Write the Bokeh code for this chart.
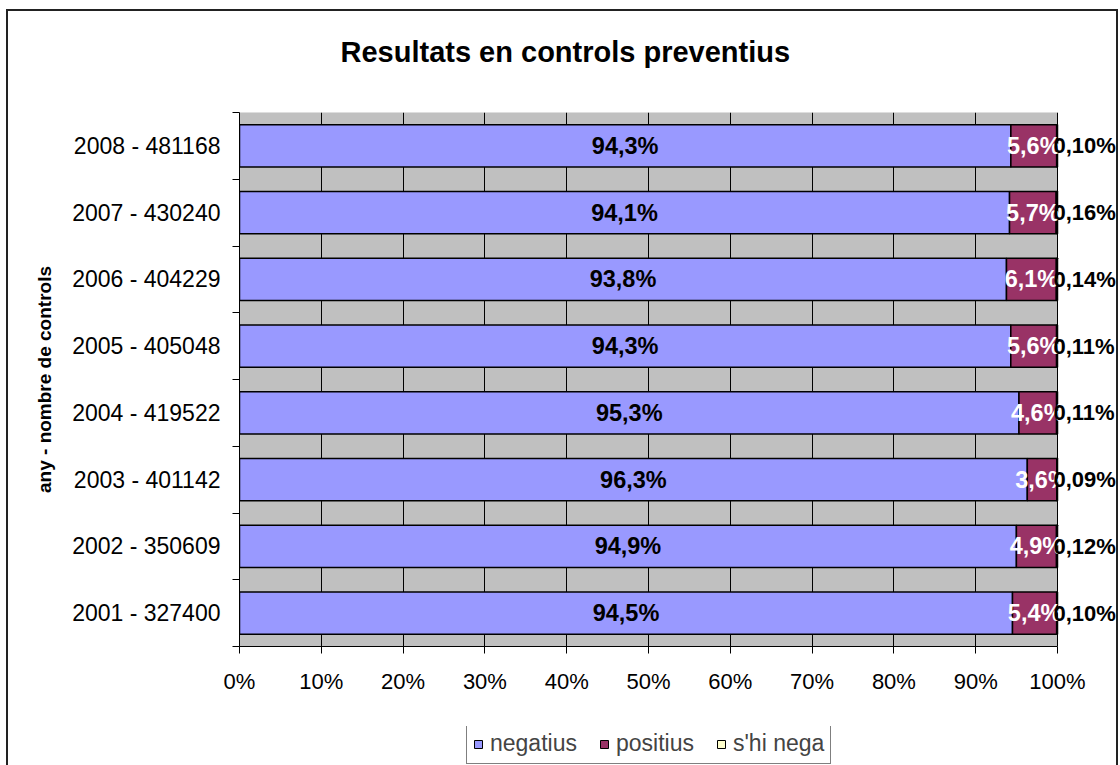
import numpy as np
from bokeh.plotting import figure
from bokeh.layouts import column
from bokeh.models import (ColumnDataSource, FixedTicker, PrintfTickFormatter,
                          Legend, LegendItem, Range1d, LabelSet, BoxAnnotation)
from bokeh.core.properties import value
from bokeh.embed import file_html
from bokeh.resources import INLINE

# ---- data (bottom to top) ----
years = ["2001", "2002", "2003", "2004", "2005", "2006", "2007", "2008"]
controls = ["327400", "350609", "401142", "419522", "405048", "404229", "430240", "481168"]
negatius = [94.5, 94.9, 96.3, 95.3, 94.3, 93.8, 94.1, 94.3]
positius = [5.4, 4.9, 3.6, 4.6, 5.6, 6.1, 5.7, 5.6]
shi_nega = [0.10, 0.12, 0.09, 0.11, 0.11, 0.14, 0.16, 0.10]
series_names = ["negatius", "positius", "s'hi nega"]
colors = ["#9999FF", "#993366", "#FFFFCC"]
x_ticks = [0, 10, 20, 30, 40, 50, 60, 70, 80, 90, 100]
title_text = "Resultats en controls preventius"
y_title = "any - nombre de controls"

FONT = "Liberation Sans"
W = 1108
BL = 231          # left border shared by all strips so frames line up
PLOT_W = 818      # pixel width of the 0-100 % plot area
X_END = 100 * (W - BL) / PLOT_W   # frame runs to the right edge, plot area is 0..100

neg = np.array(negatius)
pos = np.array(positius)
sn = np.array(shi_nega)
tot = neg + pos + sn
negn = neg / tot * 100
posn = pos / tot * 100
snn = sn / tot * 100
ypos = np.arange(len(years))

def fmt(v, d):
    return (f"{v:.{d}f}").replace(".", ",") + "%"

src = ColumnDataSource(dict(
    y=ypos,
    neg_l=np.zeros(len(years)), neg_r=negn,
    pos_l=negn, pos_r=negn + posn,
    sn_l=negn + posn, sn_r=negn + posn + snn,
    neg_c=negn / 2, pos_c=negn + posn / 2, sn_x=negn + posn + snn,
    neg_t=[fmt(v, 1) for v in negatius],
    pos_t=[fmt(v, 1) for v in positius],
    sn_t=[fmt(v, 2) for v in shi_nega],
))

def blank(fig):
    fig.grid.visible = False
    fig.outline_line_color = None
    fig.background_fill_color = "white"
    fig.border_fill_color = "white"

# ---- title strip ----
p0 = figure(width=W, height=90, output_backend="svg", toolbar_location=None,
            x_range=Range1d(0, 1), y_range=Range1d(0, 1),
            x_axis_location=None, y_axis_location=None,
            min_border_left=BL, min_border_right=0, min_border_top=0, min_border_bottom=0,
            title=title_text)
blank(p0)
p0.title.text_font = FONT
p0.title.text_font_size = "29px"
p0.title.text_font_style = "bold"
p0.title.text_color = "black"
p0.title.align = "left"
p0.title.offset = 101
p0.title.standoff = 44

# ---- main chart ----
p = figure(width=W, height=625, output_backend="svg", toolbar_location=None,
           x_range=Range1d(0, X_END), y_range=Range1d(-0.5, len(years) - 0.5),
           min_border_left=BL, min_border_right=0, min_border_top=11,
           min_border_bottom=80)

p.background_fill_color = "white"
p.border_fill_color = "white"
p.outline_line_color = None

# grey plot area 0..100 %
p.add_layout(BoxAnnotation(left=0, right=100, fill_color="#C0C0C0", fill_alpha=1,
                           line_color="#808080", line_width=1, level="image"))

p.ygrid.grid_line_color = None
p.xgrid.ticker = FixedTicker(ticks=x_ticks)
p.xgrid.grid_line_color = "black"
p.xgrid.grid_line_width = 1

xa = p.xaxis[0]
xa.bounds = (0, 100)
xa.ticker = FixedTicker(ticks=x_ticks)
xa.formatter = PrintfTickFormatter(format="%d%%")
xa.major_tick_out = 7
xa.major_tick_in = 0
xa.minor_tick_out = 0
xa.minor_tick_in = 0
xa.axis_line_color = "black"
xa.major_tick_line_color = "black"
xa.major_label_text_font = FONT
xa.major_label_text_font_size = "22px"
xa.major_label_text_color = "black"
xa.major_label_standoff = 15

ya = p.yaxis[0]
ya.ticker = FixedTicker(ticks=list(ypos), minor_ticks=list(np.arange(len(years) + 1) - 0.5))
ya.major_label_overrides = {int(i): f"{y} - {c}" for i, y, c in zip(ypos, years, controls)}
ya.major_tick_out = 0
ya.major_tick_in = 0
ya.minor_tick_out = 7
ya.minor_tick_in = 0
ya.minor_tick_line_color = "black"
ya.axis_line_color = "black"
ya.major_label_text_font = FONT
ya.major_label_text_font_size = "23px"
ya.major_label_text_color = "black"
ya.major_label_standoff = 12
ya.axis_label = y_title
ya.axis_label_text_font = FONT
ya.axis_label_text_font_size = "19px"
ya.axis_label_text_font_style = "bold"
ya.axis_label_text_color = "black"
ya.axis_label_standoff = 14

H = 0.63
cols = [("neg_l", "neg_r"), ("pos_l", "pos_r"), ("sn_l", "sn_r")]
for (l, r), c in zip(cols, colors):
    p.hbar(y="y", left=l, right=r, height=H, source=src,
           fill_color=c, line_color="black", line_width=1.5)

p.add_layout(LabelSet(x="neg_c", y="y", text="neg_t", source=src, text_align="center",
                      text_baseline="middle", text_font=value(FONT), text_font_size="23.5px",
                      text_font_style="bold", text_color="black"))
p.add_layout(LabelSet(x="pos_c", y="y", text="pos_t", source=src, text_align="center",
                      text_baseline="middle", text_font=value(FONT), text_font_size="23.5px",
                      text_font_style="bold", text_color="white"))
p.add_layout(LabelSet(x="sn_x", y="y", text="sn_t", source=src, text_align="left",
                      x_offset=-4, text_baseline="middle", text_font=value(FONT),
                      text_font_size="22px", text_font_style="bold", text_color="black"))

# ---- legend strip (swatch renderers are hidden, legend only) ----
p2 = figure(width=W, height=39, output_backend="svg", toolbar_location=None,
            x_range=Range1d(0, 100), y_range=Range1d(-0.5, len(years) - 0.5),
            x_axis_location=None, y_axis_location=None,
            min_border_left=BL, min_border_right=0, min_border_top=0, min_border_bottom=0)
blank(p2)
lr = [p2.hbar(y="y", left=l, right=r, height=H, source=src, visible=False,
              fill_color=c, line_color="black", line_width=1)
      for (l, r), c in zip(cols, colors)]
legend = Legend(items=[LegendItem(label=n, renderers=[r]) for n, r in zip(series_names, lr)],
                location=(227, 1), orientation="horizontal",
                label_text_font=FONT, label_text_font_size="23px",
                label_height=22, glyph_width=10, glyph_height=10,
                label_standoff=7, spacing=22, padding=6, margin=0,
                border_line_color="black", border_line_width=1,
                background_fill_color="white", background_fill_alpha=1)
p2.add_layout(legend, "center")

layout = column(p0, p, p2, spacing=0, margin=(9, 0, 0, 6),
                styles={"border-top": "2px solid #222", "border-left": "2px solid #222",
                        "border-right": "2px solid #222"})

open("out.html", "w").write(file_html(layout, INLINE))
